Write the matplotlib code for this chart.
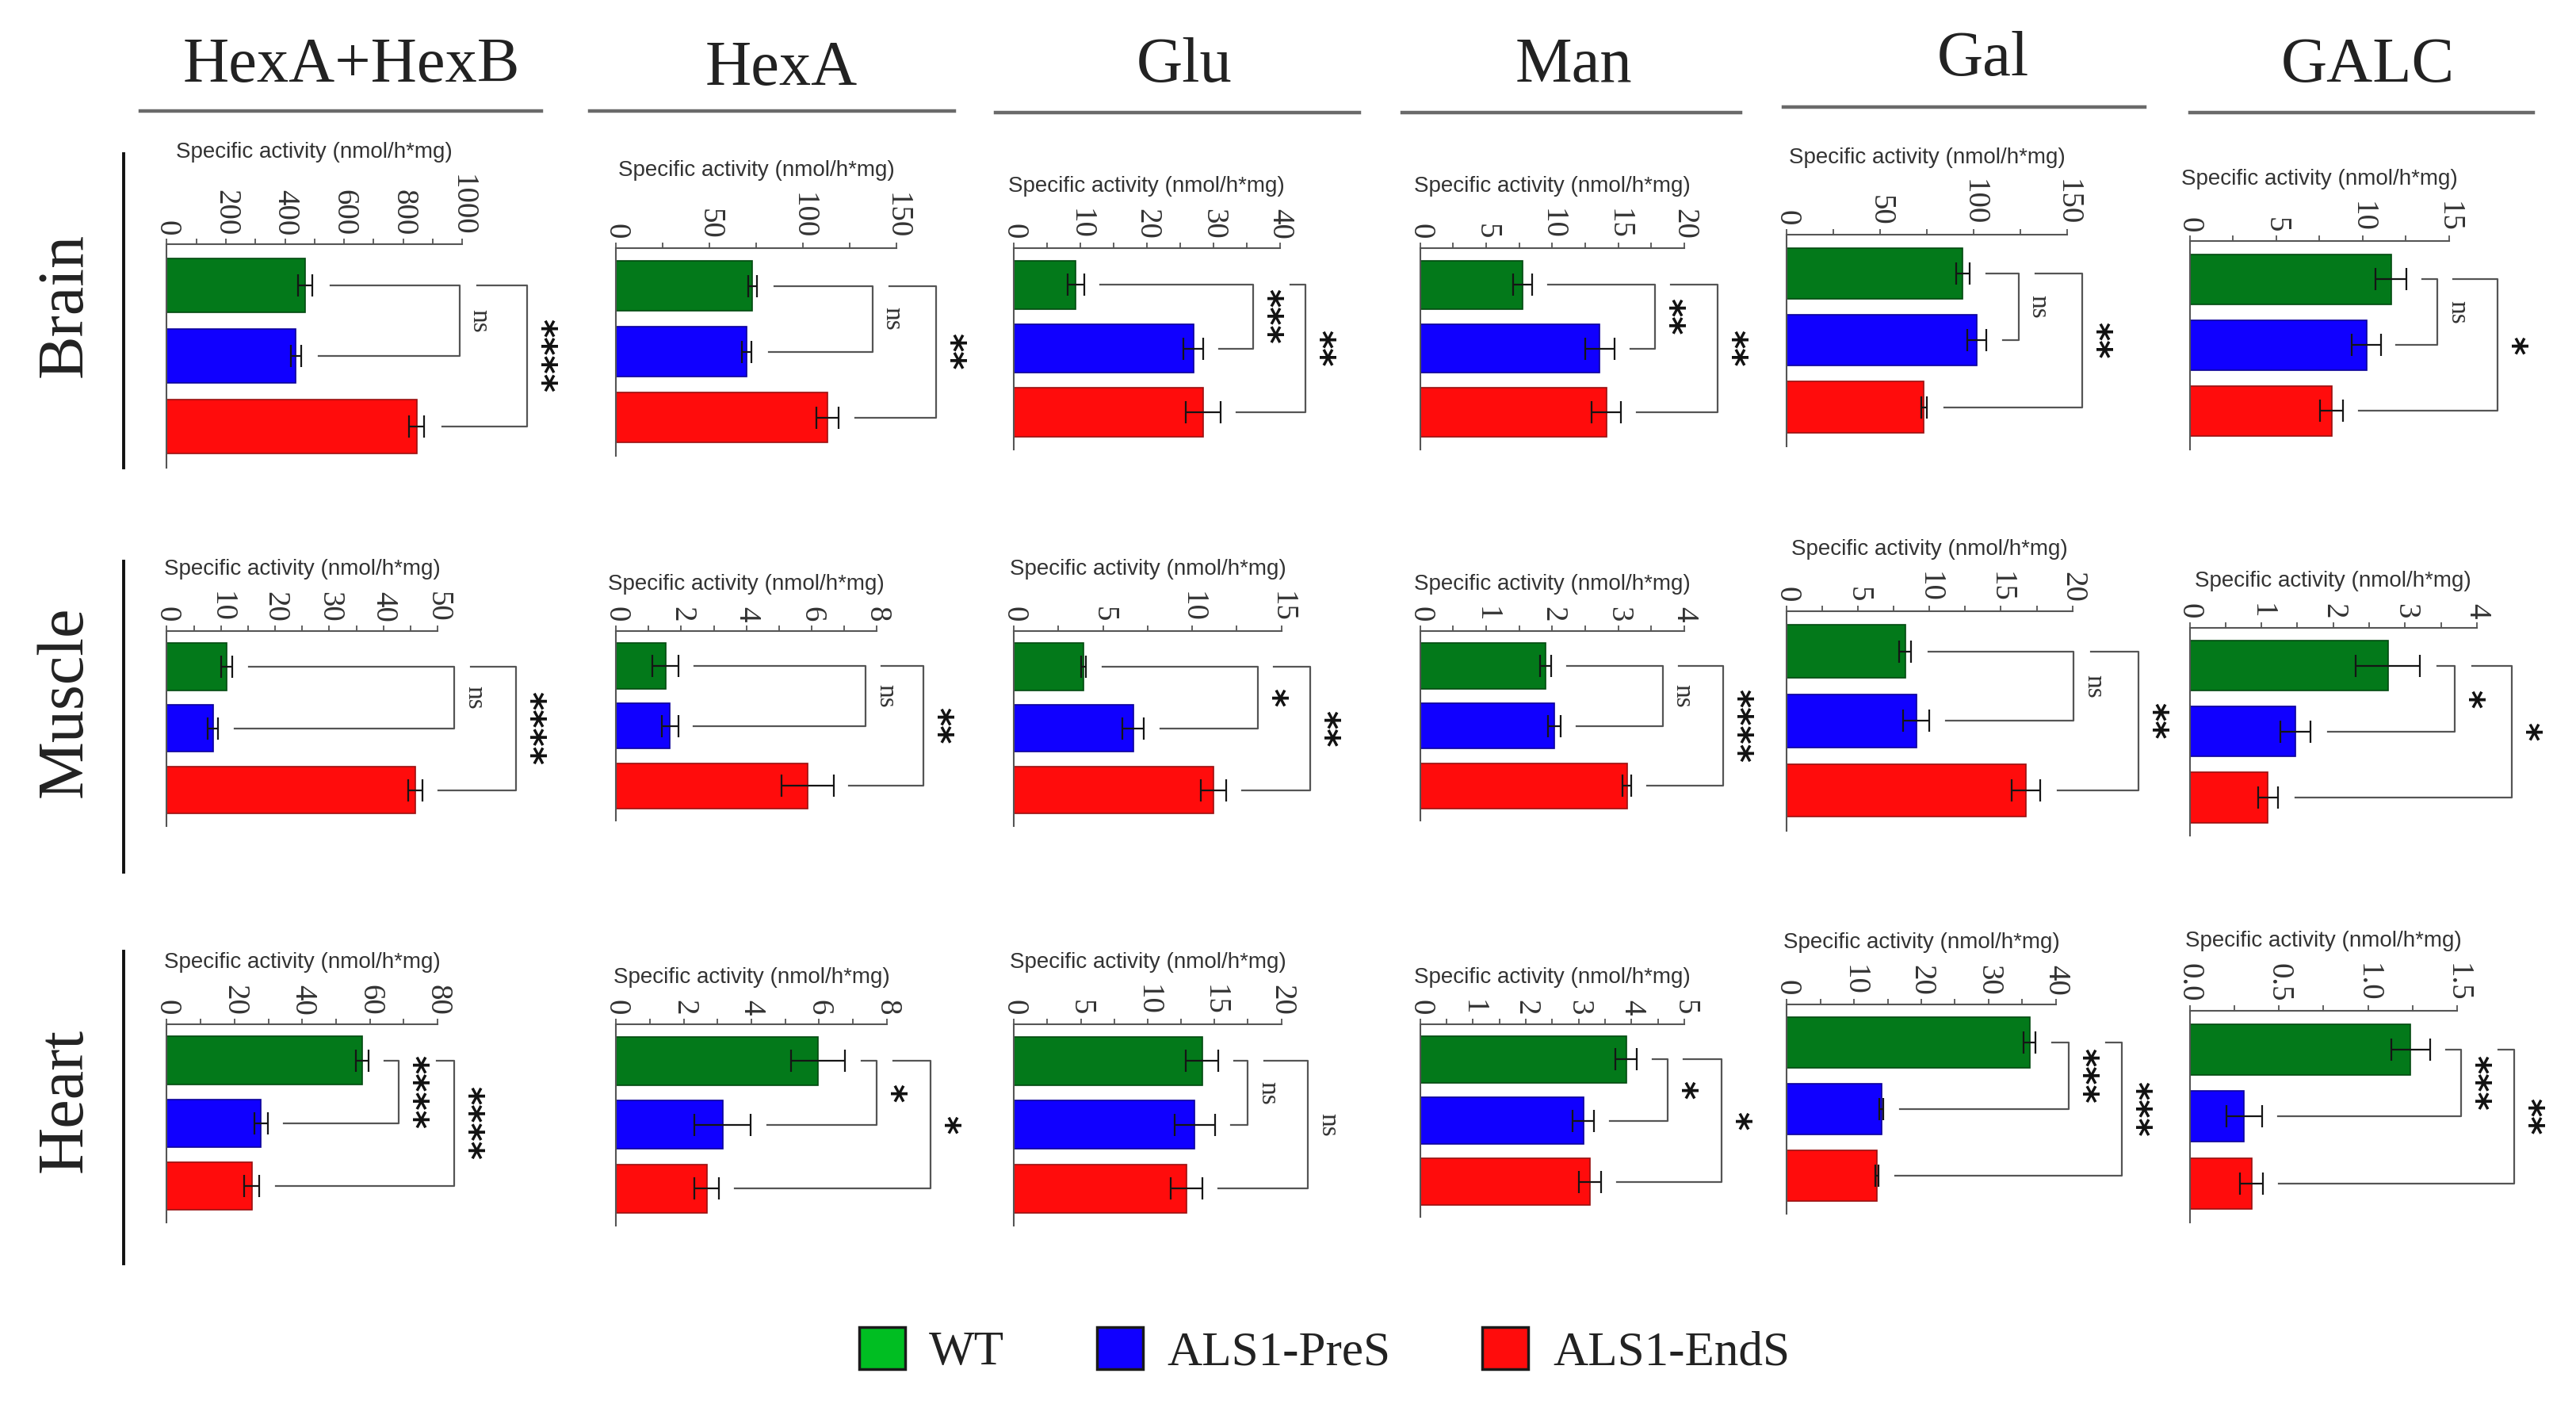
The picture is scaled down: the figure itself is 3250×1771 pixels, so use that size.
import matplotlib
matplotlib.use("Agg")
import matplotlib.pyplot as plt
from matplotlib.patches import Patch
from matplotlib.lines import Line2D

# ---------------- data ----------------
groups = ["WT", "ALS1-PreS", "ALS1-EndS"]
enzymes = ["HexA+HexB", "HexA", "Glu", "Man", "Gal", "GALC"]
tissues = ["Brain", "Muscle", "Heart"]

brain_means = [[469, 437, 845], [73, 70, 113], [9.3, 27.0, 28.5],
               [7.75, 13.6, 14.1], [94, 101.6, 73.4], [11.65, 10.23, 8.22]]
brain_errs = [[24, 18, 26], [2.5, 2.5, 6], [1.25, 1.5, 2.6],
              [0.7, 1.1, 1.1], [3.6, 4.9, 1.6], [0.9, 0.83, 0.67]]
muscle_means = [[11.1, 8.5, 45.9], [1.52, 1.66, 5.87], [3.9, 6.7, 11.2],
                [1.9, 2.03, 3.13], [8.3, 9.07, 16.75], [2.76, 1.47, 1.09]]
muscle_errs = [[1.0, 1.0, 1.3], [0.4, 0.25, 0.8], [0.15, 0.6, 0.7],
               [0.08, 0.1, 0.07], [0.42, 0.9, 1.0], [0.45, 0.21, 0.14]]
heart_means = [[57.7, 27.8, 25.1], [5.97, 3.15, 2.68], [14.07, 13.52, 12.9],
               [3.9, 3.09, 3.22], [36.1, 14.1, 13.45], [1.239, 0.306, 0.347]]
heart_errs = [[1.8, 2.0, 2.2], [0.8, 0.83, 0.36], [1.2, 1.5, 1.2],
              [0.2, 0.2, 0.21], [0.9, 0.3, 0.25], [0.11, 0.1, 0.065]]

# significance: (WT vs PreS, WT vs EndS)
brain_sig = [("ns", "****"), ("ns", "**"), ("***", "**"), ("**", "**"), ("ns", "**"), ("ns", "*")]
muscle_sig = [("ns", "****"), ("ns", "**"), ("*", "**"), ("ns", "****"), ("ns", "**"), ("*", "*")]
heart_sig = [("****", "****"), ("*", "*"), ("ns", "ns"), ("*", "*"), ("***", "***"), ("***", "**")]

# axis ranges / ticks
brain_max = [1000, 150, 40, 20, 150, 15]
muscle_max = [50, 8, 15, 4, 20, 4]
heart_max = [80, 8, 20, 5, 40, 1.5]
brain_ticks = [[0, 200, 400, 600, 800, 1000], [0, 50, 100, 150], [0, 10, 20, 30, 40],
               [0, 5, 10, 15, 20], [0, 50, 100, 150], [0, 5, 10, 15]]
muscle_ticks = [[0, 10, 20, 30, 40, 50], [0, 2, 4, 6, 8], [0, 5, 10, 15],
                [0, 1, 2, 3, 4], [0, 5, 10, 15, 20], [0, 1, 2, 3, 4]]
heart_ticks = [[0, 20, 40, 60, 80], [0, 2, 4, 6, 8], [0, 5, 10, 15, 20],
               [0, 1, 2, 3, 4, 5], [0, 10, 20, 30, 40], [0.0, 0.5, 1.0, 1.5]]
heart_ticklabels_galc = ["0.0", "0.5", "1.0", "1.5"]

# bracket x positions (data units): (inner WT-PreS, outer WT-EndS)
brain_brk = [(990, 1220), (137, 171), (36, 43.9), (17.75, 22.5), (124, 158), (14.33, 17.8)]
muscle_brk = [(53.1, 64.5), (7.66, 9.42), (13.66, 16.6), (3.67, 4.59), (20.1, 24.64), (3.69, 4.49)]
heart_brk = [(68.6, 84.8), (7.71, 9.3), (17.5, 22.0), (4.68, 5.7), (41.9, 49.8), (1.52, 1.82)]

# ---------------- layout (reference units, 1560 wide) ----------------
W, H = 3250, 1771
S = W / 1560.0

XPOS = [
    [(101, 280), (373, 543), (614, 775), (860, 1020), (1082, 1252), (1326, 1483)],
    [(101, 265), (373, 531), (614, 776), (860, 1020), (1082, 1255), (1326, 1500)],
    [(101, 265), (373, 537), (614, 776), (860, 1020), (1082, 1245), (1326, 1488)],
]
YPOS = [
    [(148, 283), (150, 276), (150, 272), (150, 272), (142, 270), (146, 272)],
    [(382, 500), (382, 497), (382, 500), (382, 497), (370, 503), (380, 506)],
    [(620, 740), (620, 742), (620, 742), (620, 737), (608, 735), (612, 740)],
]
HEAD_X = [213, 473, 717, 953, 1201, 1434]
HEAD_Y = [40, 42, 40, 40, 36, 40]
UNDER = [(85, 328, 67), (357, 578, 67), (603, 823, 68), (849, 1054, 68), (1080, 1299, 65), (1326, 1534, 68)]
ROW_Y = [185, 425, 666]
ROW_LINE = [(93, 283), (340, 528), (576, 765)]

bar_colors = ["#03791A", "#1000FF", "#FF0C0C"]
edge_colors = ["#024A10", "#0A0099", "#991010"]
legend_colors = ["#00BE22", "#1000FF", "#FF0C0C"]

SERIF = ["Liberation Serif", "DejaVu Serif"]
SANS = ["Liberation Sans", "DejaVu Sans"]


def fx(x):
    return x * S / W


def fy(y):
    return 1 - y * S / H


fig = plt.figure(figsize=(W / 100, H / 100), dpi=100)

means_all = [brain_means, muscle_means, heart_means]
errs_all = [brain_errs, muscle_errs, heart_errs]
sig_all = [brain_sig, muscle_sig, heart_sig]
max_all = [brain_max, muscle_max, heart_max]
ticks_all = [brain_ticks, muscle_ticks, heart_ticks]
brk_all = [brain_brk, muscle_brk, heart_brk]

LINE_C = "#555555"

for r in range(3):
    for c in range(6):
        x0, x1 = XPOS[r][c]
        yt, yb = YPOS[r][c]
        ax = fig.add_axes([fx(x0), fy(yb), fx(x1) - fx(x0), fy(yt) - fy(yb)])
        vals = means_all[r][c]
        errs = errs_all[r][c]
        xmax = max_all[r][c]
        ticks = ticks_all[r][c]
        ypos = list(range(len(groups)))
        ax.barh(ypos, vals, height=0.76, color=bar_colors, edgecolor=edge_colors,
                linewidth=1.2, xerr=errs, zorder=2,
                error_kw=dict(ecolor="#151515", elinewidth=1.6, capsize=10, capthick=1.6, zorder=3))
        ax.set_xlim(0, xmax)
        ax.set_ylim(2.58, -0.58)
        ax.set_yticks([])
        ax.xaxis.tick_top()
        ax.set_xticks(ticks)
        if r == 2 and c == 5:
            labels = heart_ticklabels_galc
        else:
            labels = [str(int(t)) for t in ticks]
        ax.set_xticklabels(labels, rotation=270, fontfamily=SERIF, fontsize=28, color="#333333")
        step = ticks[1] - ticks[0]
        minors = [ticks[0] + step * (k + 0.5) for k in range(len(ticks) - 1)]
        ax.set_xticks(minors, minor=True)
        ax.tick_params(axis="x", which="both", direction="out", length=5, width=1.3,
                       color=LINE_C, pad=3)
        for side in ("right", "bottom"):
            ax.spines[side].set_visible(False)
        for side in ("top", "left"):
            ax.spines[side].set_color(LINE_C)
            ax.spines[side].set_linewidth(1.5)
        ax.xaxis.set_label_position("top")
        ax.set_xlabel("Specific activity (nmol/h*mg)", fontsize=20, fontfamily=SANS,
                      color="#333333", labelpad=15)
        ax.set_facecolor("none")

        # significance brackets
        gap = 0.06 * xmax
        inner_x, outer_x = brk_all[r][c]
        s_in, s_out = sig_all[r][c]
        ends = [v + e + gap for v, e in zip(vals, errs)]
        ax.plot([ends[0], inner_x, inner_x, ends[1]], [0, 0, 1, 1], color=LINE_C,
                lw=1.6, clip_on=False, zorder=1)
        extra = 0.06 if s_in in ("ns", "*", "**") else 0.14
        top_start = inner_x + extra * xmax
        ax.plot([top_start, outer_x, outer_x, ends[2]], [0, 0, 2, 2], color=LINE_C,
                lw=1.6, clip_on=False, zorder=1)
        for txt, xb, ym in ((s_in, inner_x, 0.5), (s_out, outer_x, 1.0)):
            if txt == "ns":
                ax.annotate(txt, xy=(xb, ym), xytext=(18, 0), textcoords="offset points",
                            rotation=270, ha="center", va="center", fontsize=24,
                            fontfamily=SERIF, color="#333333", annotation_clip=False)
            else:
                ax.annotate(txt, xy=(xb, ym), xytext=(12, 0), textcoords="offset points",
                            rotation=270, ha="center", va="center", fontsize=32,
                            fontfamily=["DejaVu Sans"], fontweight="bold", color="#111111",
                            annotation_clip=False)

# column headers and underlines
for c, name in enumerate(enzymes):
    fig.text(fx(HEAD_X[c]), fy(HEAD_Y[c]), name, ha="center", va="center",
             fontsize=58, fontfamily=SERIF, color="#222222")
    xa, xb, yl = UNDER[c]
    fig.add_artist(Line2D([fx(xa), fx(xb)], [fy(yl), fy(yl)], color="#6a6a6a", lw=3.2))

# row labels and vertical lines
for r, name in enumerate(tissues):
    fig.text(fx(40), fy(ROW_Y[r]), name, ha="center", va="center", rotation=90,
             fontsize=59, fontfamily=SERIF, color="#222222")
    ya, yb2 = ROW_LINE[r]
    fig.add_artist(Line2D([fx(75), fx(75)], [fy(ya), fy(yb2)], color="#111111", lw=2.8))

# legend
handles = [Patch(facecolor=col, edgecolor="#1a1a1a", linewidth=2.5, label=g)
           for col, g in zip(legend_colors, groups)]
fig.legend(handles=handles, loc="center", bbox_to_anchor=(fx(802), fy(818)), ncol=3,
           frameon=False, prop=dict(family=SERIF, size=44), handlelength=0.95,
           handleheight=0.95, handletextpad=0.5, columnspacing=1.9, labelcolor="#222222")

fig.savefig("out.png", dpi=100, facecolor="white")
